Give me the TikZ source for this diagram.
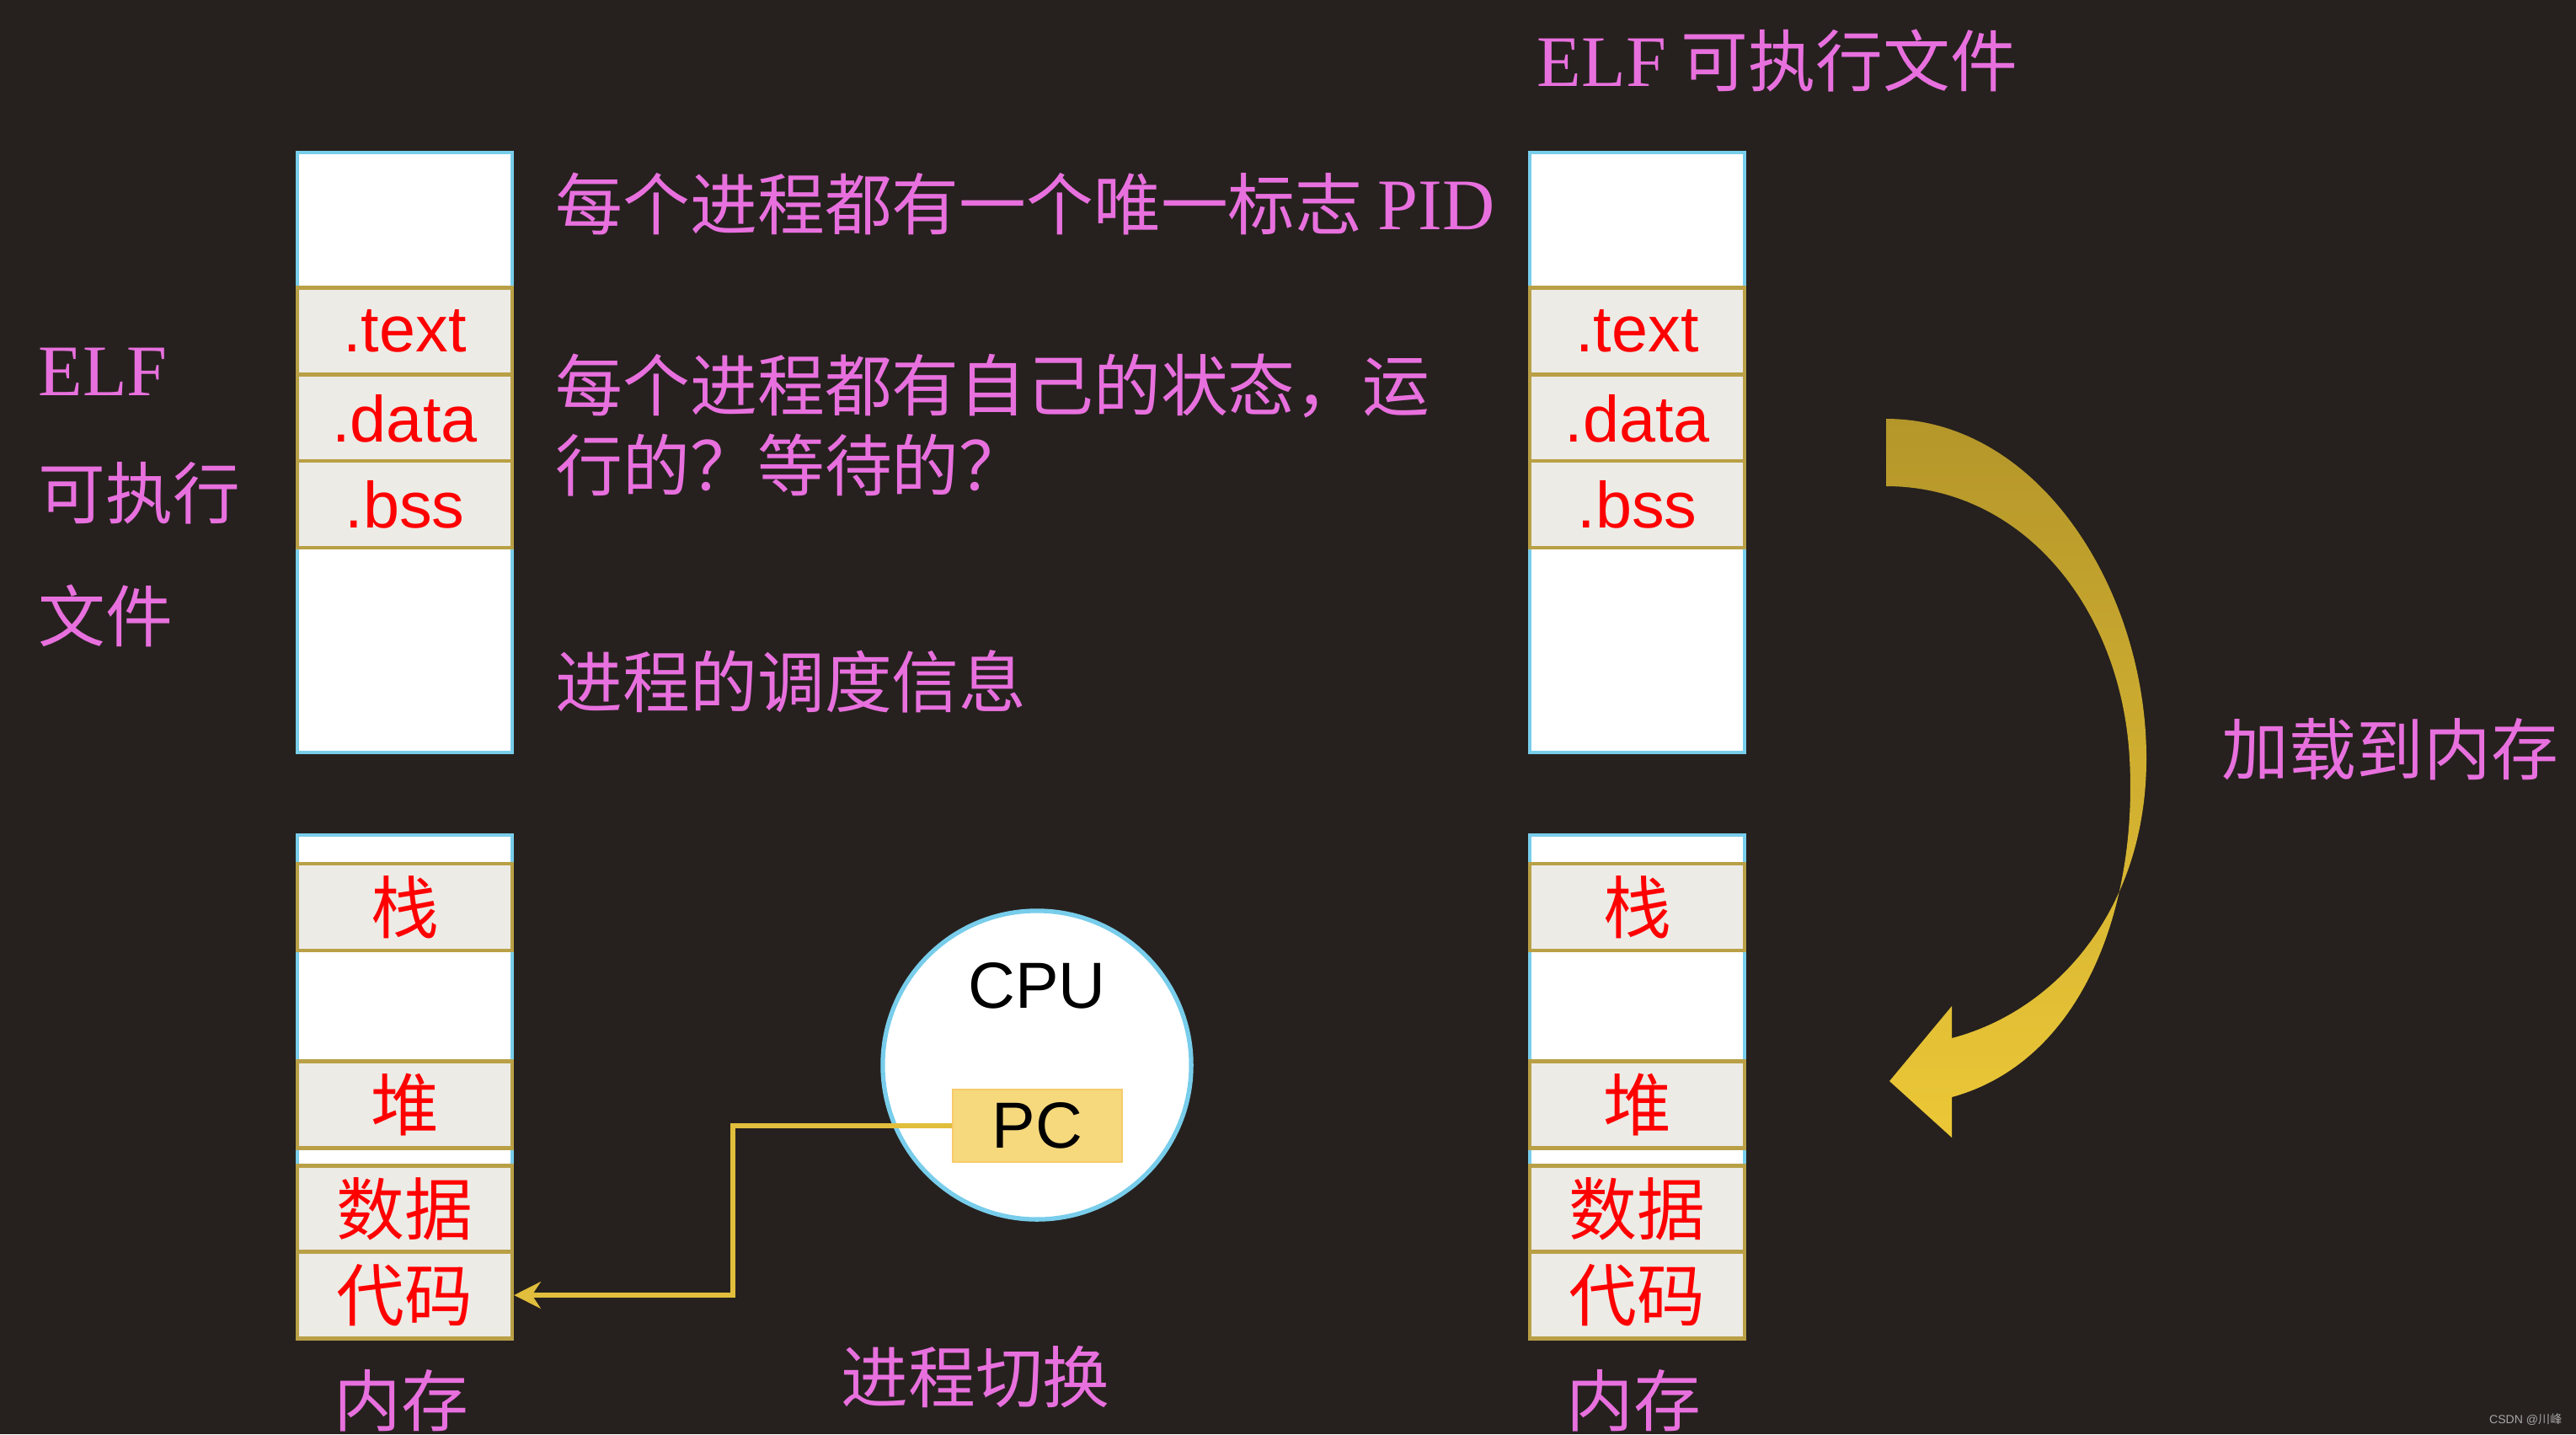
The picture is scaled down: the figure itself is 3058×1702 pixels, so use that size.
\documentclass[tikz,border=0pt]{standalone}
\usepackage{fontspec}
\setmainfont{Liberation Serif}
\setsansfont{Liberation Sans}
\newfontfamily\cjk{Noto Sans CJK SC}
\usetikzlibrary{arrows.meta}
\definecolor{bgdark}{RGB}{38,33,30}
\definecolor{elfpink}{RGB}{232,112,222}
\definecolor{boxblue}{RGB}{120,205,235}
\definecolor{bandgold}{RGB}{185,160,70}
\definecolor{bandgray}{RGB}{236,235,230}
\definecolor{pcgold}{RGB}{246,216,125}
\definecolor{linkgold}{RGB}{225,190,60}
\definecolor{arrowdark}{RGB}{180,150,42}
\definecolor{arrowlight}{RGB}{236,200,55}
\newcommand{\lat}[1]{{\rmfamily\fontsize{24.5}{28}\selectfont #1}}
\tikzset{
	memcol/.style={draw=boxblue,fill=white,line width=1.2pt,minimum width=2.55cm,inner sep=0pt},
	band/.style={draw=bandgold,fill=bandgray,line width=1.2pt,minimum width=2.55cm,minimum height=1.03cm,inner sep=0pt,text=red,font=\sffamily\fontsize{22}{26}\selectfont},
	cband/.style={band,font=\cjk\fontsize{23}{26}\selectfont},
	note/.style={text=elfpink,anchor=west,inner sep=0pt,font=\cjk\fontsize{22.7}{26}\selectfont},
}

\begin{document}
\begin{tikzpicture}[x=0.01cm,y=-0.01cm]
	\fill[bgdark] (0,0) rectangle (3058,1702);
	\useasboundingbox (0,0) rectangle (3058,1702);
	% file on the left and on the right
	\foreach \cx/\s in {480.5/L,1943.5/R}{
		\node[memcol,minimum height=7.12cm] (elf\s) at (\cx,537) {};
		\node[band] (text\s) at (\cx,393) {.text};
		\node[band] (data\s) at (\cx,496.5) {.data};
		\node[band] (bss\s) at (\cx,598.5) {.bss};
		\node[memcol,minimum height=5.97cm] (mem\s) at (\cx,1289.5) {};
		\node[cband] (stack\s) at (\cx,1076.5) {栈};
		\node[cband] (heap\s) at (\cx,1311) {堆};
		\node[cband] (dat\s) at (\cx,1435) {数据};
		\node[cband] (code\s) at (\cx,1537) {代码};
		\node[note,anchor=center] (ram\s) at (\cx-4,1662) {内存};
	}
	\node[note] (elfa) at (45,441) {\lat{ELF}};
	\node[note] (elfb) at (45,585) {可执行};
	\node[note] (elfc) at (45,731) {文件};
	\node[note] (elftop) at (1824,72) {\lat{ELF} 可执行文件};
	\node[note] (pid) at (659,242) {每个进程都有一个唯一标志 \lat{PID}};
	\node[note] (stateA) at (659,458) {每个进程都有自己的状态，运};
	\node[note] (stateB) at (659,552) {行的？等待的？};
	\node[note] (sched) at (659,809) {进程的调度信息};
	\node[note] (load) at (2637,889) {加载到内存};
	\node[note,anchor=center] (switch) at (1158,1634) {进程切换};
	% cpu
	\node[circle,draw=boxblue,fill=white,line width=1.5pt,minimum size=3.66cm,inner sep=0pt] (cpu) at (1231,1264) {};
	\node[font=\sffamily\fontsize{22}{26}\selectfont] (cpulabel) at (1231,1170) {CPU};
	\node[draw=pcgold!85!orange,fill=pcgold,minimum width=2.01cm,minimum height=0.86cm,inner sep=0pt,font=\sffamily\fontsize{22}{26}\selectfont] (pc) at (1231.5,1336) {PC};
	\coordinate (bend) at (870,1336);
	\draw[linkgold,line width=1.7pt,-{Stealth[length=9pt,width=9pt]}] (pc.west) -- (bend) |- (codeL.east);
	% load arrow
	\shade[top color=arrowdark,bottom color=arrowlight] (2239,497) .. controls (2420,497) and (2548,700) .. (2548,900)
		.. controls (2548,1080) and (2440,1200) .. (2317,1232) -- (2317,1194) -- (2243,1283) -- (2317,1350) -- (2317,1302)
		.. controls (2470,1260) and (2538,1080) .. (2528,900) .. controls (2518,720) and (2400,577) .. (2239,577) -- cycle;
	\node[text=gray!70,font=\sffamily\fontsize{4}{5}\selectfont,anchor=east,inner sep=0pt] (mark) at (3042,1685) {CSDN @{\cjk 川峰}};
\end{tikzpicture}
\end{document}
